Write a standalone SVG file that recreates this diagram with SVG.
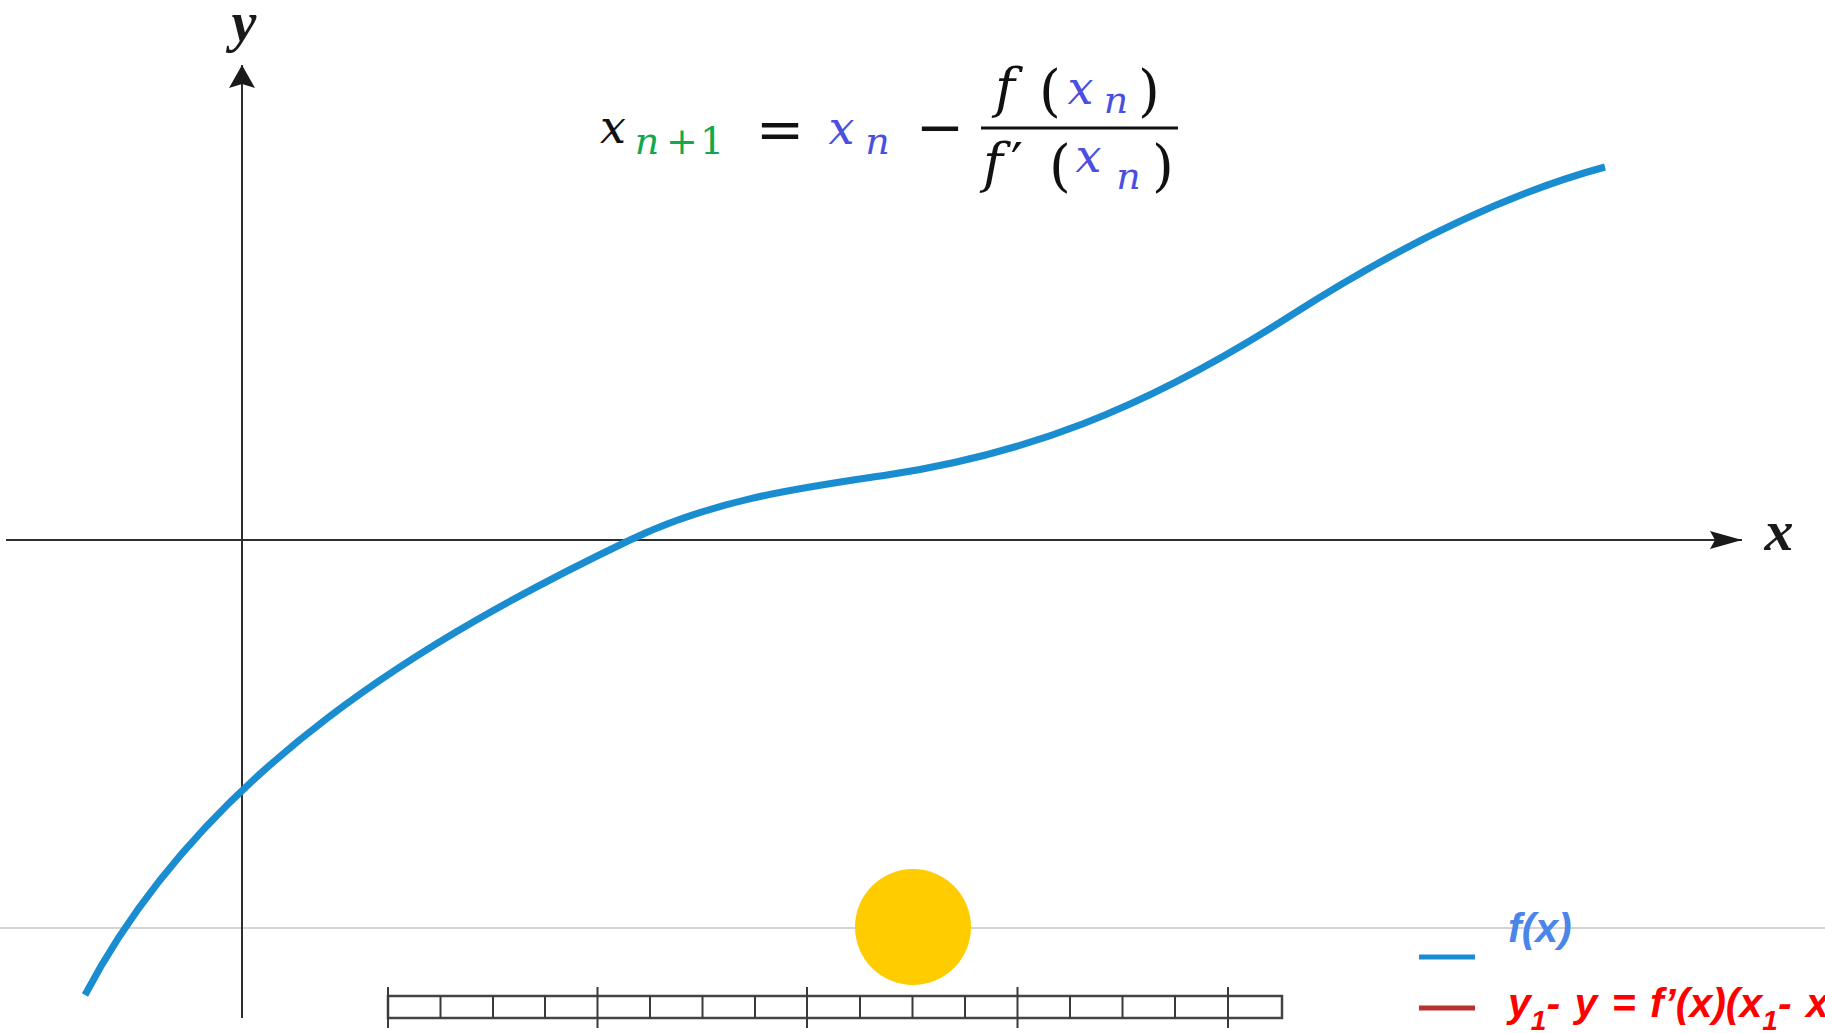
<svg xmlns="http://www.w3.org/2000/svg" width="1825" height="1033" viewBox="0 0 1825 1033">
<style>
.axis{stroke:#2e2e2e;stroke-width:2;fill:none}
.guide{stroke:#c6c6c6;stroke-width:1.6;fill:none}
.curve{stroke:#1a8dd0;stroke-width:7;fill:none;stroke-linecap:butt;stroke-linejoin:round}
.tick{stroke:#3a3a3a;stroke-width:2;fill:none}
.math{font-family:"DejaVu Serif","Liberation Serif",serif;font-style:italic;fill:#111;text-anchor:middle}
.up{font-style:normal}
.blue{fill:#4b4fe0}
.green{fill:#12a84f}
.lbl{font-family:"Liberation Serif","Times New Roman",serif;font-style:italic;font-weight:bold;fill:#1a1a1a}
.leg{font-family:"Liberation Sans",Arial,sans-serif;font-style:italic;font-weight:bold}
</style>
<defs>
<marker id="ahY" viewBox="0 0 23 26" refX="23" refY="13" markerWidth="23" markerHeight="26" markerUnits="userSpaceOnUse" orient="auto"><path d="M0,0 L23,13 L0,26 L4,13 z" fill="#1a1a1a"/></marker>
<marker id="ahX" viewBox="0 0 32 18" refX="32" refY="9" markerWidth="32" markerHeight="18" markerUnits="userSpaceOnUse" orient="auto"><path d="M0,0 L32,9 L0,18 L5,9 z" fill="#1a1a1a"/></marker>
</defs>
<rect x="0" y="0" width="1825" height="1033" fill="#ffffff"/>

<g id="connectors">
<line class="guide" x1="0" y1="928" x2="1825" y2="928"/>
<line class="axis" x1="6" y1="540" x2="1742" y2="540" stroke-width="2.5" stroke="#444" marker-end="url(#ahX)"/>
<line class="axis" x1="242" y1="1018" x2="242" y2="65" marker-end="url(#ahY)"/>
</g>

<g id="axis-labels">
<text class="lbl" x="244" y="41" font-size="56" text-anchor="middle">y</text>
<text class="lbl" x="1779" y="550" font-size="58" text-anchor="middle">x</text>
</g>

<g id="function-curve">
<path class="curve" d="M85,995 C205,767 430,636 630,540 C716,498.7 801,487.9 887,475 C1021,454.9 1140,412 1290,316 C1395,248.8 1500,195.4 1605,167"/>
</g>

<g id="formula">
<text class="math" x="613" y="143" font-size="46">x</text>
<text class="math green" x="647" y="154" font-size="38">n</text>
<text class="math green up" x="682" y="154" font-size="38">+</text>
<text class="math green up" x="712" y="154" font-size="38">1</text>
<text class="math up" x="780" y="149" font-size="58">=</text>
<text class="math blue" x="841.5" y="144" font-size="46">x</text>
<text class="math blue" x="877.5" y="154" font-size="38">n</text>
<text class="math up" x="940" y="147" font-size="58">−</text>
<line x1="981" y1="128" x2="1178" y2="128" stroke="#111" stroke-width="3"/>
<text class="math" x="1005" y="107" font-size="54">f</text>
<text class="math up" x="1050" y="110" font-size="56">(</text>
<text class="math blue" x="1080.5" y="104" font-size="46">x</text>
<text class="math blue" x="1116" y="112.5" font-size="38">n</text>
<text class="math up" x="1149" y="110" font-size="56">)</text>
<text class="math" x="993" y="182" font-size="54">f</text>
<text class="math up" x="1017" y="182" font-size="54">′</text>
<text class="math up" x="1060" y="185" font-size="56">(</text>
<text class="math blue" x="1088.5" y="172" font-size="46">x</text>
<text class="math blue" x="1128.5" y="189" font-size="38">n</text>
<text class="math up" x="1163" y="185" font-size="56">)</text>
</g>

<g id="sun">
<circle cx="913" cy="927" r="58" fill="#ffcc00"/>
</g>

<g id="ruler">
<rect x="388" y="996" width="894" height="22" fill="none" stroke="#444" stroke-width="2.5"/>
<path class="tick" d="M388,987V1028 M597.5,987V1028 M807,987V1028 M1017.5,987V1028 M1228,987V1028"/>
<path class="tick" d="M440.5,996V1018 M493,996V1018 M545,996V1018 M650,996V1018 M702.5,996V1018 M755,996V1018 M860,996V1018 M912.5,996V1018 M965,996V1018 M1070,996V1018 M1122.5,996V1018 M1175,996V1018"/>
</g>

<g id="legend">
<line x1="1419" y1="957" x2="1475" y2="957" stroke="#1a8dd0" stroke-width="5"/>
<line x1="1419" y1="1008" x2="1475" y2="1008" stroke="#b83232" stroke-width="5"/>
<text class="leg" x="1508" y="942" font-size="41" fill="#4a86e8">f(x)</text>
<text class="leg" x="1508" y="1017" font-size="41" fill="#ff0000" word-spacing="3">y<tspan font-size="28" dy="13">1</tspan><tspan dy="-13">- y = f’(x)(x</tspan><tspan font-size="28" dy="13">1</tspan><tspan dy="-13">-  x</tspan></text>
</g>
</svg>
